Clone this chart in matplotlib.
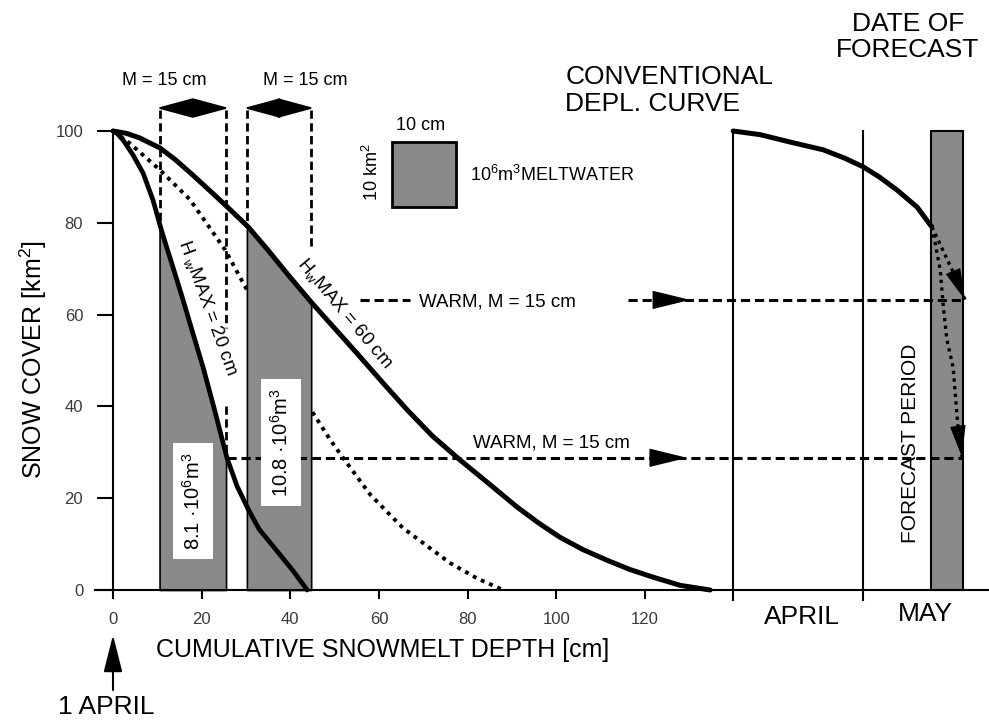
import numpy as np
import matplotlib
matplotlib.use('Agg')
import matplotlib.pyplot as plt
from matplotlib.patches import Rectangle

plt.rcParams['font.family'] = ['Liberation Sans', 'DejaVu Sans']
plt.rcParams['mathtext.fontset'] = 'custom'
plt.rcParams['mathtext.rm'] = 'Liberation Sans'
plt.rcParams['mathtext.it'] = 'Liberation Sans'
plt.rcParams['mathtext.bf'] = 'Liberation Sans:bold'

# ---------------- data ----------------
xticks = [0, 20, 40, 60, 80, 100, 120]
yticks = [0, 20, 40, 60, 80, 100]

# depletion curve H_wMAX = 20 cm
hw20_x = [0, 1.0, 2.3, 4.5, 6.8, 9.0, 11.1, 13.5, 15.8, 18, 20.3, 23, 25.7, 28.0,
          30.7, 33.0, 36.9, 40.6, 43.8]
hw20_y = [100, 99.4, 98, 94.8, 90.8, 85, 77.8, 70.4, 63.2, 56.0, 48.6, 38.9, 28.8,
          22.6, 17.2, 13.2, 8.6, 4.2, 0]

# depletion curve H_wMAX = 60 cm
hw60_x = [0, 3, 6, 10.6, 14, 18, 21.5, 25.3, 30.5, 35, 39.9, 44.9, 50, 55, 61, 66.3,
          72, 78.3, 85, 91.1, 96, 100.8, 106, 111.4, 116.5, 121.8, 128, 134.7]
hw60_y = [100, 99.5, 98.5, 96.3, 93.8, 90.4, 87.3, 83.9, 79.1, 74.0, 68.2, 62.5, 57.0,
          51.6, 45.0, 39.3, 33.6, 28.3, 23.0, 18.1, 14.6, 11.5, 8.8, 6.5, 4.5, 2.8, 1.0, 0]

# intermediate depletion curve (dotted)
mid_x = [0, 3.8, 10.6, 17.4, 25.3, 30.2, 37.5, 45.1, 49, 51.9, 58, 65.4, 76, 82, 88]
mid_y = [100, 97.3, 91.5, 85, 74.1, 65.4, 52, 38.6, 32.7, 28.8, 20.8, 13.5, 5.9, 2.6, 0]

# conventional depletion curve (right panel)
conv_x = [139.9, 146, 152.7, 160.2, 165, 169.2, 173, 176.9, 181.4, 184.7]
conv_y = [100, 99.2, 97.6, 95.9, 94.1, 92.2, 89.9, 87.1, 83.4, 79.1]

# forecast branches (dotted arrows)
fc_up_x = [184.7, 186.1, 187.7, 189.3, 190.6, 192.2]
fc_up_y = [79.1, 76.3, 73.0, 69.7, 66.9, 63.2]
fc_lo_x = [184.7, 185.2, 186.6, 187.3, 188.1, 189.5, 190.6, 191.5]
fc_lo_y = [79.1, 76.9, 69.7, 61.7, 54.5, 48.6, 35.5, 29.0]

bar1 = (10.5, 25.5)     # M = 15 cm, under 20 cm curve
bar2 = (30.2, 44.7)     # M = 15 cm, under 60 cm curve
bar1_label = "8.1 ·10$^6$m$^3$"
bar2_label = "10.8 ·10$^6$m$^3$"
april_start = 139.9
may_start = 169.2
forecast = (184.5, 191.7)
warm_hi = 63.2
warm_lo = 28.8

GRAY = '#8a8a8a'

# ---------------- figure ----------------
fig = plt.figure(figsize=(9.89, 7.22), dpi=100)
ax = fig.add_axes([0, 0, 1, 1])
ax.set_xlim(-25.49, 197.6)
ax.set_ylim(-28.76, 128.54)

for s in ['top', 'right']:
    ax.spines[s].set_visible(False)
ax.spines['left'].set_position(('data', 0))
ax.spines['left'].set_bounds(0, 100)
ax.spines['bottom'].set_position(('data', 0))
ax.spines['bottom'].set_bounds(-4, 197.6)
for s in ['left', 'bottom']:
    ax.spines[s].set_linewidth(1.5)

ax.set_xticks(xticks)
ax.set_yticks(yticks)
ax.tick_params(axis='y', direction='out', length=11.5, width=1.5, pad=10,
               labelsize=12, labelcolor='#3a3a3a')
ax.tick_params(axis='x', direction='out', length=6.7, width=1.5, pad=9,
               labelsize=12, labelcolor='#3a3a3a')

ax.set_ylabel('SNOW COVER [km$^2$]', fontsize=18)
ax.yaxis.set_label_coords(33 / 989, 1 - 360 / 722)
ax.yaxis.label.set_va('center')
ax.set_xlabel('CUMULATIVE SNOWMELT DEPTH [cm]', fontsize=18)
ax.xaxis.set_label_coords(382.5 / 989, 1 - 650 / 722)
ax.xaxis.label.set_va('center')

# ---- bars (meltwater volumes) ----
def under(xs, ys, lo, hi):
    bx = np.concatenate([[lo], [x for x in xs if lo < x < hi], [hi]])
    by = np.interp(bx, xs, ys)
    return bx, by

bx, by = under(hw20_x, hw20_y, *bar1)
ax.fill_between(bx, 0, by, facecolor=GRAY, edgecolor='k', lw=1.2, zorder=2)
bx, by = under(hw60_x, hw60_y, *bar2)
ax.fill_between(bx, 0, by, facecolor=GRAY, edgecolor='k', lw=1.2, zorder=2)

# ---- curves ----
ax.plot(mid_x, mid_y, color='k', lw=2.8, ls=(0, (1, 1.3)), zorder=1)
ax.plot(hw60_x, hw60_y, color='k', lw=3.6, solid_capstyle='round',
        solid_joinstyle='round', zorder=4)
ax.plot(hw20_x, hw20_y, color='k', lw=3.4, solid_capstyle='round',
        solid_joinstyle='round', zorder=4)

ax.text(21.3, 61.5, r'H $_{\mathrm{w}}$MAX = 20 cm', rotation=-70, fontsize=13.5,
        ha='center', va='center', rotation_mode='anchor', zorder=6)
ax.text(52.3, 60.2, r'H$_{\mathrm{w}}$MAX = 60 cm', rotation=-50, fontsize=13.5,
        ha='center', va='center', rotation_mode='anchor', zorder=6)

ax.text(18.0, 19.4, bar1_label, rotation=90, fontsize=14.5, ha='center', va='center',
        bbox=dict(boxstyle='square,pad=0.45', fc='white', ec='none'), zorder=5)
ax.text(37.8, 32.1, bar2_label, rotation=90, fontsize=14.5, ha='center', va='center',
        bbox=dict(boxstyle='square,pad=0.45', fc='white', ec='none'), zorder=5)

# ---- M = 15 cm arrows and guides ----
dash = (0, (3.0, 1.6))
for (lo, hi), (ylo_l, ylo_r), tx in [((bar1[0], bar1[1]), (78.4, 57.0), 11.6),
                                      ((bar2[0], bar2[1]), (79.0, 74.7), 43.3)]:
    ax.plot([lo, lo], [104.5, ylo_l], color='k', lw=2.0, ls=dash, zorder=3)
    ax.plot([hi, hi], [104.5, ylo_r], color='k', lw=2.0, ls=dash, zorder=3)
    ax.annotate('', xy=(hi + 0.7, 105), xytext=(lo - 0.7, 105),
                arrowprops=dict(arrowstyle='<|-|>,head_length=2.3,head_width=0.62',
                                color='k', lw=1.5, shrinkA=0, shrinkB=0,
                                mutation_scale=10), zorder=5)
    ax.text(tx, 111.1, 'M = 15 cm', fontsize=13, ha='center', va='center')
ax.plot([bar1[1], bar1[1]], [40, warm_lo], color='k', lw=2.0, ls=dash, zorder=3)

# ---- legend square ----
ax.add_patch(Rectangle((62.9, 83.4), 14.5, 14.2, facecolor=GRAY, edgecolor='k',
                       lw=2.0, zorder=3))
ax.text(69.3, 101.1, '10 cm', fontsize=13, ha='center', va='center')
ax.text(58.4, 91.0, '10 km$^2$', fontsize=13, ha='center', va='center', rotation=90)
ax.text(80.5, 90.4, '10$^6$m$^3$MELTWATER', fontsize=13, ha='left', va='center')

# ---- WARM dashed lines ----
ax.plot([55.7, 67.0], [warm_hi, warm_hi], color='k', lw=2.2, ls=dash, zorder=3)
ax.plot([116.2, fc_up_x[-1]], [warm_hi, warm_hi], color='k', lw=2.2, ls=dash, zorder=3)
ax.text(86.7, 62.7, 'WARM, M = 15 cm', fontsize=13.5, ha='center', va='center')
ax.plot([25.7, fc_lo_x[-1]], [warm_lo, warm_lo], color='k', lw=2.2, ls=dash, zorder=3)
ax.text(99.0, 32.0, 'WARM, M = 15 cm', fontsize=13.5, ha='center', va='center')
for tip, yy in [(130.2, warm_hi), (129.5, warm_lo)]:
    ax.annotate('', xy=(tip, yy), xytext=(tip - 6, yy),
                arrowprops=dict(arrowstyle='-|>,head_length=2.45,head_width=0.6',
                                color='k', lw=1.0, shrinkA=0, shrinkB=0,
                                mutation_scale=10), zorder=5)

# ---- right panel ----
ax.plot([april_start, april_start], [-2.2, 100], color='k', lw=1.5, zorder=3)
ax.plot([may_start, may_start], [-2.2, 100], color='k', lw=1.5, zorder=3)
ax.add_patch(Rectangle((forecast[0], 0), forecast[1] - forecast[0], 100,
                       facecolor=GRAY, edgecolor='k', lw=1.5, zorder=2))
ax.plot(conv_x, conv_y, color='k', lw=3.6, solid_capstyle='round',
        solid_joinstyle='round', zorder=4)
ax.plot(fc_up_x, fc_up_y, color='k', lw=2.4, ls=(0, (1, 1.3)), zorder=4)
ax.plot(fc_lo_x, fc_lo_y, color='k', lw=2.4, ls=(0, (1, 1.3)), zorder=4)
for xs, ys in [(fc_up_x, fc_up_y), (fc_lo_x, fc_lo_y)]:
    ax.annotate('', xy=(xs[-1], ys[-1]), xytext=(xs[-2], ys[-2]),
                arrowprops=dict(arrowstyle='-|>,head_length=2.0,head_width=0.5',
                                color='k', lw=1.0, shrinkA=0, shrinkB=0,
                                mutation_scale=10), zorder=5)

ax.text(102.0, 108.8, 'CONVENTIONAL\nDEPL. CURVE', fontsize=19, ha='left',
        va='center', linespacing=1.15)
ax.text(179.3, 120.5, 'DATE OF\nFORECAST', fontsize=19, ha='center',
        va='center', linespacing=1.1)
ax.text(179.8, 32.0, 'FORECAST PERIOD', fontsize=15, ha='center', va='center',
        rotation=90)
ax.text(155.4, -5.9, 'APRIL', fontsize=19, ha='center', va='center')
ax.text(183.2, -5.2, 'MAY', fontsize=19, ha='center', va='center')

# ---- 1 APRIL ----
ax.annotate('', xy=(0, -9.8), xytext=(0, -21.8),
            arrowprops=dict(arrowstyle='-|>,head_length=2.3,head_width=0.58',
                            color='k', lw=1.5, shrinkA=0, shrinkB=0,
                            mutation_scale=10))
ax.text(-1.6, -25.5, '1 APRIL', fontsize=19, ha='center', va='center')

fig.savefig('out.png', dpi=100)
